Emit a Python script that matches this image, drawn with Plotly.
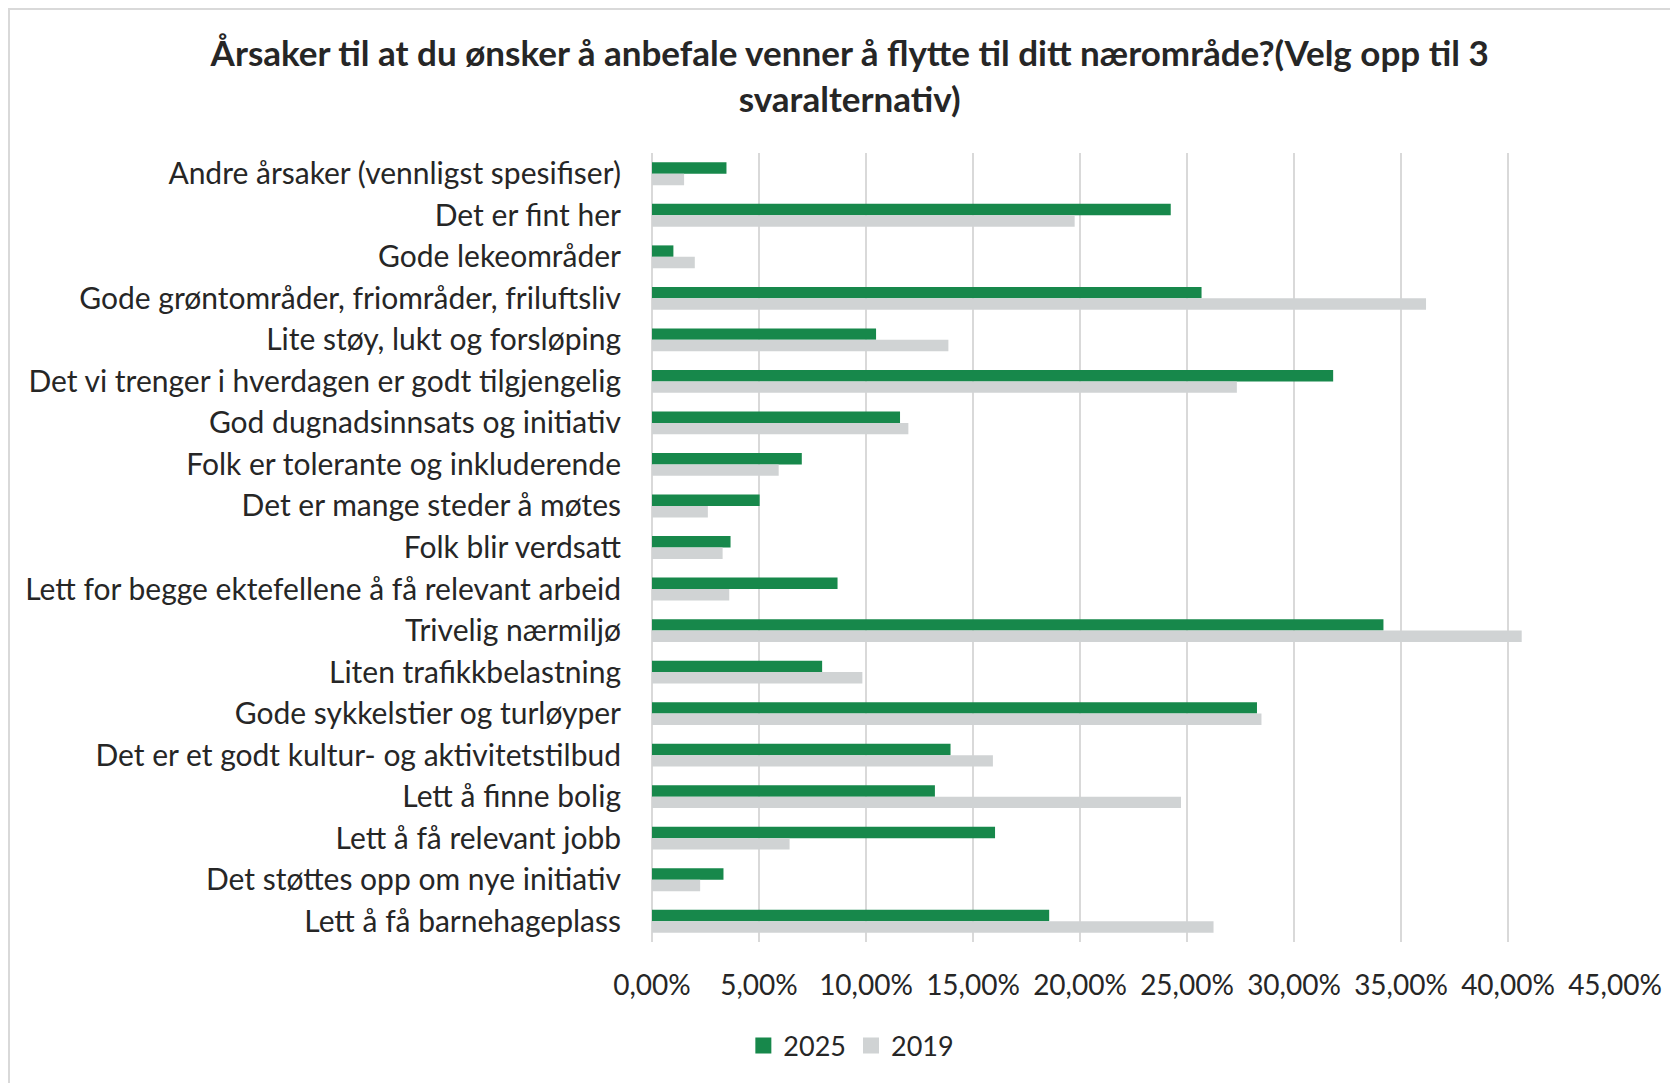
import plotly.graph_objects as go

categories = [
    "Andre årsaker (vennligst spesifiser)",
    "Det er fint her",
    "Gode lekeområder",
    "Gode grøntområder, friområder, friluftsliv",
    "Lite støy, lukt og forsløping",
    "Det vi trenger i hverdagen er godt tilgjengelig",
    "God dugnadsinnsats og initiativ",
    "Folk er tolerante og inkluderende",
    "Det er mange steder å møtes",
    "Folk blir verdsatt",
    "Lett for begge ektefellene å få relevant arbeid",
    "Trivelig nærmiljø",
    "Liten trafikkbelastning",
    "Gode sykkelstier og turløyper",
    "Det er et godt kultur- og aktivitetstilbud",
    "Lett å finne bolig",
    "Lett å få relevant jobb",
    "Det støttes opp om nye initiativ",
    "Lett å få barnehageplass",
]

# andeler (0-1)
v2025 = [0.0348, 0.2424, 0.0100, 0.2568, 0.1047, 0.3183, 0.1159, 0.0700, 0.0503,
         0.0367, 0.0867, 0.3418, 0.0795, 0.2827, 0.1395, 0.1322, 0.1603, 0.0334, 0.1856]
v2019 = [0.0150, 0.1975, 0.0200, 0.3617, 0.1385, 0.2733, 0.1198, 0.0592, 0.0261,
         0.0330, 0.0361, 0.4064, 0.0983, 0.2848, 0.1593, 0.2472, 0.0643, 0.0225, 0.2624]

xticks = [0, 0.05, 0.10, 0.15, 0.20, 0.25, 0.30, 0.35, 0.40, 0.45]

green = "#17884b"
grey = "#d0d3d4"
txt = "#262626"
font = "Lato, Open Sans, sans-serif"

W, H = 1670, 1075          # siden har 8 px marg i nettleseren
L, T, PW, PH = 644, 145, 963, 789

fig = go.Figure()
fig.add_trace(go.Bar(y=categories, x=v2025, name="2025", orientation="h",
                     marker=dict(color=green, line=dict(width=0)), showlegend=False))
fig.add_trace(go.Bar(y=categories, x=v2019, name="2019", orientation="h",
                     marker=dict(color=grey, line=dict(width=0)), showlegend=False))

# større firkanter i forklaringen
for name, col in [("2025", green), ("2019", grey)]:
    fig.add_trace(go.Scatter(x=[None], y=[None], mode="markers", name=name,
                             marker=dict(symbol="square", size=16, color=col)))

fig.update_layout(
    width=W, height=H,
    paper_bgcolor="white", plot_bgcolor="white",
    margin=dict(l=L, r=W - L - PW, t=T, b=H - T - PH),
    font=dict(family=font, size=30, color=txt),
    separators=", ",
    barmode="group", bargap=0.45, bargroupgap=0,
    title=dict(
        text="<b>Årsaker til at du ønsker å anbefale venner å flytte til ditt nærområde?(Velg opp til 3<br>svaralternativ)</b>",
        x=0.504, xanchor="center", y=0.946, yanchor="top",
        font=dict(family=font, size=35, color=txt),
    ),
    legend=dict(orientation="h", xref="container", yref="container",
                x=0.505, xanchor="center", y=0.0344, yanchor="middle",
                font=dict(size=27), traceorder="normal", itemwidth=30),
    showlegend=True,
)

fig.update_xaxes(
    range=[0, 0.45], tickvals=xticks, tickformat=".2%",
    showgrid=True, gridcolor="#d9d9d9", gridwidth=2,
    zeroline=True, zerolinecolor="#d9d9d9", zerolinewidth=2,
    showline=False, ticks="", ticklabelstandoff=24,
    tickfont=dict(size=28, color=txt),
)
fig.update_yaxes(
    autorange="reversed", showgrid=False, ticks="",
    ticklabelstandoff=30, tickfont=dict(size=30, color=txt),
)

# ramme rundt diagrammet
fig.add_shape(type="rect", xref="paper", yref="paper",
              x0=(1 - L) / PW, x1=(W + 20 - L) / PW,
              y0=(T + PH - H - 20) / PH, y1=(T + PH - 1) / PH,
              line=dict(color="#d9d9d9", width=2), fillcolor="rgba(0,0,0,0)",
              layer="below")

fig.write_html("out.html")
